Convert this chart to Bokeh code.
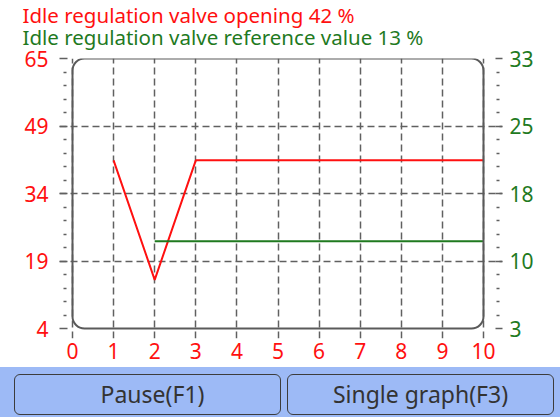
from bokeh.plotting import figure
from bokeh.models import Range1d, LinearAxis, FixedTicker, BoxAnnotation, Title, Div
from bokeh.layouts import column
from bokeh.embed import file_html
from bokeh.resources import INLINE

# ---- data ----
red_x = [1, 2, 3, 4, 5, 6, 7, 8, 9, 10]
red_y = [42, 15, 42, 42, 42, 42, 42, 42, 42, 42]
green_x = [2, 3, 4, 5, 6, 7, 8, 9, 10]
green_y = [12.7, 12.7, 12.7, 12.7, 12.7, 12.7, 12.7, 12.7, 12.7]

x_ticks = [0, 1, 2, 3, 4, 5, 6, 7, 8, 9, 10]
left_ticks = [4, 19.25, 34.5, 49.75, 65]
left_labels = ["4", "19", "34", "49", "65"]
right_ticks = [3, 10.5, 18, 25.5, 33]
right_labels = ["3", "10", "18", "25", "33"]

title1 = "Idle regulation valve opening 42 %"
title2 = "Idle regulation valve reference value 13 %"
buttons = ["Pause(F1)", "Single graph(F3)"]

RED = "#ff1010"
GREEN = "#1f7a1f"
GRID = "#606060"
FONT = "Noto Sans"
BLUE = "#9dbaf6"

# ---- layout (pixels) ----
W, H = 560, 367
BAR_H = 50
FL, FR, FT, FB = 59, 502, 58, 338  # frame edges in canvas px
px_unit_x = 41.1
x0_px = 72  # canvas x of x=0
x_start = -(x0_px - FL) / px_unit_x
x_end = x_start + (FR - FL) / px_unit_x
y4_px = 328
pu_left = (y4_px - FT) / (65 - 4)
y_start = 4 - (FB - y4_px) / pu_left
pu_right = (y4_px - FT) / (33 - 3)
yr_start = 3 - (FB - y4_px) / pu_right

p = figure(width=W, height=H, output_backend="svg", toolbar_location=None,
           x_range=Range1d(x_start, x_end), y_range=Range1d(y_start, 65),
           min_border_left=FL, min_border_right=W - FR,
           min_border_top=FT, min_border_bottom=H - FB,
           x_axis_location=None, y_axis_location=None)
p.outline_line_color = None
p.background_fill_color = "white"
p.border_fill_color = "white"
p.extra_y_ranges = {"right": Range1d(yr_start, 33)}


def minor_between(ticks):
    out = []
    for a, b in zip(ticks[:-1], ticks[1:]):
        for k in range(1, 5):
            out.append(a + (b - a) * k / 5)
    return out


# x axis
xax = LinearAxis(ticker=FixedTicker(ticks=x_ticks, minor_ticks=[]))
xax.axis_line_color = None
xax.major_tick_in = 0
xax.major_tick_out = 0
xax.minor_tick_line_color = None
xax.major_label_standoff = 4
xax.major_label_text_color = RED
xax.major_label_text_font = FONT
xax.major_label_text_font_size = "21px"
p.add_layout(xax, "below")

# left axis
lax = LinearAxis(ticker=FixedTicker(ticks=left_ticks, minor_ticks=minor_between(left_ticks)))
lax.major_label_overrides = {t: s for t, s in zip(left_ticks, left_labels)}
lax.axis_line_color = None
lax.major_tick_in = 8
lax.major_tick_out = 0
lax.minor_tick_in = 7
lax.minor_tick_out = -4
lax.major_tick_line_color = GRID
lax.minor_tick_line_color = GRID
lax.major_tick_line_width = 1.5
lax.minor_tick_line_width = 1.5
lax.major_label_standoff = 11
lax.major_label_text_color = RED
lax.major_label_text_font = FONT
lax.major_label_text_font_size = "21px"
p.add_layout(lax, "left")

# right axis
rax = LinearAxis(y_range_name="right",
                 ticker=FixedTicker(ticks=right_ticks, minor_ticks=minor_between(right_ticks)))
rax.major_label_overrides = {t: s for t, s in zip(right_ticks, right_labels)}
rax.axis_line_color = None
rax.major_tick_in = 7
rax.major_tick_out = 0
rax.minor_tick_in = 6
rax.minor_tick_out = -3
rax.major_tick_line_color = GRID
rax.minor_tick_line_color = GRID
rax.major_tick_line_width = 1.5
rax.minor_tick_line_width = 1.5
rax.major_label_standoff = 7
rax.major_label_text_color = GREEN
rax.major_label_text_font = FONT
rax.major_label_text_font_size = "21px"
p.add_layout(rax, "right")

# grids
p.xgrid.ticker = FixedTicker(ticks=x_ticks)
p.ygrid.ticker = FixedTicker(ticks=left_ticks[1:-1])
for g in (p.xgrid, p.ygrid):
    g.grid_line_color = GRID
    g.grid_line_width = 1.5
    g.grid_line_dash = "7 4"

# rounded box
box = BoxAnnotation(left=0, right=10, bottom=4, top=65, border_radius=12,
                    fill_color=None, fill_alpha=0, line_color="#5a5a5a", line_alpha=1,
                    line_width=2, level="annotation")
p.add_layout(box)

p.line(red_x, red_y, line_color=RED, line_width=2)
p.line(green_x, green_y, line_color=GREEN, line_width=2, y_range_name="right")

# titles (nearest to the frame first)
p.add_layout(Title(text=title2, align="left", offset=-37, standoff=12,
                   vertical_align="top",
                   text_color=GREEN, text_font=FONT, text_font_size="20.5px",
                   text_font_style="normal"), "above")
p.add_layout(Title(text=title1, align="left", offset=-37, standoff=-25,
                   vertical_align="bottom",
                   text_color=RED, text_font=FONT, text_font_size="20.5px",
                   text_font_style="normal"), "above")

# bottom button bar
btn_style = ("position:absolute;top:7px;border:1.5px solid #3c3c3c;"
             "border-radius:6px;display:flex;align-items:center;justify-content:center;"
             "font-family:'Noto Sans';font-size:23px;color:#333333;box-sizing:border-box;")
html = (f'<div style="position:relative;width:{W}px;height:{BAR_H}px;background:{BLUE};">'
        f'<div style="{btn_style}left:14px;width:267px;height:41px;padding-left:10px;">{buttons[0]}</div>'
        f'<div style="{btn_style}left:287px;width:267px;height:41px;">{buttons[1]}</div>'
        '</div>')
bar = Div(text=html, width=W, height=BAR_H, margin=0)

open("out.html", "w").write(file_html(column(p, bar, spacing=0), INLINE))
